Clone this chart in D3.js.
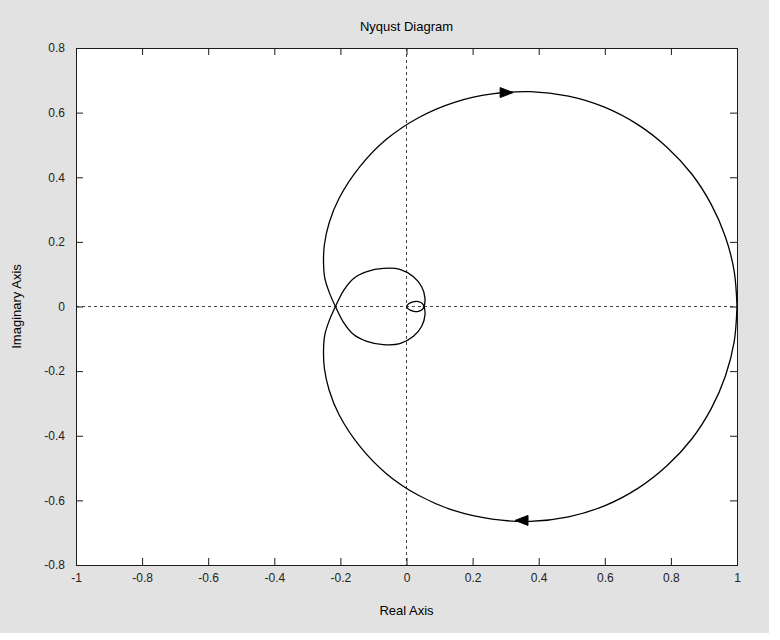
<!DOCTYPE html>
<html><head><meta charset="utf-8">
<script src="https://cdn.jsdelivr.net/npm/d3@7"></script>
<style>
body{margin:0;background:#fff}
text{font-family:"Liberation Sans",Arial,Helvetica,sans-serif}
</style>
</head><body>
<svg id="chart" width="780" height="640"></svg>
<script>
// ---------- data ----------
const chartTitle = "Nyqust Diagram";
const xLabel = "Real Axis";
const yLabel = "Imaginary Axis";
const xTicks = [-1, -0.8, -0.6, -0.4, -0.2, 0, 0.2, 0.4, 0.6, 0.8, 1];
const yTicks = [-0.8, -0.6, -0.4, -0.2, 0, 0.2, 0.4, 0.6, 0.8];

// branch for negative frequencies: from (1,0) over the top, through the inner loop, to the origin
const negRe = [1.0, 0.9915, 0.965, 0.922, 0.863, 0.788, 0.700, 0.599, 0.490, 0.375, 0.259, 0.145, 0.0375,
  -0.060, -0.141, -0.204, -0.234, -0.2485, -0.251, -0.247, -0.2335, -0.215,
  -0.19, -0.16, -0.12, -0.07, -0.02, 0.021, 0.046, 0.056, 0.053,
  0.047, 0.036, 0.023, 0.011, 0.003, 0.0];
const negIm = [0.0, 0.109, 0.215, 0.316, 0.41, 0.493, 0.563, 0.617, 0.651, 0.665, 0.658, 0.632, 0.585,
  0.518, 0.433, 0.335, 0.259, 0.191, 0.133, 0.087, 0.043, 0.0,
  -0.05, -0.087, -0.108, -0.118, -0.115, -0.092, -0.061, -0.025, 0.0,
  0.01, 0.015, 0.015, 0.011, 0.005, 0.0];

// branch for positive frequencies: from (1,0) under the bottom, through the inner loop, to the origin
const posRe = [1.0, 0.9915, 0.965, 0.922, 0.863, 0.788, 0.700, 0.599, 0.490, 0.375, 0.259, 0.145, 0.0375,
  -0.060, -0.141, -0.204, -0.234, -0.2485, -0.251, -0.247, -0.2335, -0.215,
  -0.19, -0.16, -0.12, -0.07, -0.02, 0.021, 0.046, 0.056, 0.053,
  0.047, 0.036, 0.023, 0.011, 0.003, 0.0];
const posIm = [0.0, -0.109, -0.215, -0.316, -0.41, -0.493, -0.563, -0.617, -0.651, -0.665, -0.658, -0.632, -0.585,
  -0.518, -0.433, -0.335, -0.259, -0.191, -0.133, -0.087, -0.043, 0.0,
  0.05, 0.087, 0.108, 0.118, 0.115, 0.092, 0.061, 0.025, 0.0,
  -0.01, -0.015, -0.015, -0.011, -0.005, 0.0];

// direction arrows on the curve
const arrowRe = [0.303, 0.348];
const arrowIm = [0.662, -0.662];
const arrowDir = [1, -1];   // +1 points toward +Re, -1 toward -Re

// ---------- drawing ----------
const svg = d3.select("#chart");
const W = 780, H = 640;
const plot = {left: 76, right: 737, top: 48, bottom: 565};

svg.append("rect").attr("x", 0).attr("y", 0).attr("width", W).attr("height", H).attr("fill", "#ffffff");
svg.append("rect").attr("x", 0).attr("y", 0).attr("width", 769).attr("height", 633).attr("fill", "#e2e2e2");

const x = d3.scaleLinear().domain([-1, 1]).range([plot.left, plot.right]);
const y = d3.scaleLinear().domain([-0.8, 0.8]).range([plot.bottom, plot.top]);

svg.append("rect")
  .attr("x", plot.left).attr("y", plot.top)
  .attr("width", plot.right - plot.left).attr("height", plot.bottom - plot.top)
  .attr("fill", "#ffffff");

const fmt = d => String(+d.toFixed(1));
const tickLen = 7;

// dashed zero lines
svg.append("line")
  .attr("x1", x(0)).attr("x2", x(0)).attr("y1", y(0.8)).attr("y2", y(-0.8))
  .attr("stroke", "#444").attr("stroke-width", 1).attr("stroke-dasharray", "3,3");
svg.append("line")
  .attr("x1", x(-1)).attr("x2", x(1)).attr("y1", y(0)).attr("y2", y(0))
  .attr("stroke", "#444").attr("stroke-width", 1).attr("stroke-dasharray", "3,3");

function styleAxis(g) {
  g.select(".domain").remove();
  g.selectAll(".tick line").attr("stroke", "#1a1a1a");
  g.selectAll(".tick text").attr("fill", "#222").style("font-size", "12px")
    .style("font-family", '"Liberation Sans", Arial, sans-serif');
}

// bottom axis
svg.append("g").attr("transform", `translate(0,${plot.bottom})`)
  .call(d3.axisBottom(x).tickValues(xTicks).tickFormat(fmt).tickSizeInner(-tickLen).tickSizeOuter(0).tickPadding(8))
  .call(styleAxis);
// top axis
svg.append("g").attr("transform", `translate(0,${plot.top})`)
  .call(d3.axisTop(x).tickValues(xTicks).tickFormat("").tickSizeInner(-tickLen).tickSizeOuter(0))
  .call(styleAxis);
// left axis
svg.append("g").attr("transform", `translate(${plot.left},0)`)
  .call(d3.axisLeft(y).tickValues(yTicks).tickFormat(fmt).tickSizeInner(-tickLen).tickSizeOuter(0).tickPadding(11))
  .call(styleAxis);
// right axis
svg.append("g").attr("transform", `translate(${plot.right},0)`)
  .call(d3.axisRight(y).tickValues(yTicks).tickFormat("").tickSizeInner(-tickLen).tickSizeOuter(0))
  .call(styleAxis);

// box
svg.append("rect")
  .attr("x", plot.left + 0.5).attr("y", plot.top + 0.5)
  .attr("width", plot.right - plot.left).attr("height", plot.bottom - plot.top)
  .attr("fill", "none").attr("stroke", "#1a1a1a").attr("stroke-width", 1);

// curves
const line = d3.line().x(d => x(d[0])).y(d => y(d[1])).curve(d3.curveCatmullRom.alpha(0.5));
const negPts = negRe.map((r, i) => [r, negIm[i]]);
const posPts = posRe.map((r, i) => [r, posIm[i]]);
[negPts, posPts].forEach(pts => {
  svg.append("path").datum(pts).attr("d", line)
    .attr("fill", "none").attr("stroke", "#000").attr("stroke-width", 1.3);
});

// arrows
arrowRe.forEach((r, i) => {
  const cx = x(r), cy = y(arrowIm[i]), d = arrowDir[i];
  const L = 6.5, Hh = 5;
  const pts = [[cx + d * L, cy], [cx - d * L, cy - Hh], [cx - d * L, cy + Hh]];
  svg.append("path").attr("d", "M" + pts.map(p => p.join(",")).join("L") + "Z")
    .attr("fill", "#000").attr("stroke", "#000").attr("stroke-width", 1);
});

// titles
svg.append("text").attr("x", (plot.left + plot.right) / 2).attr("y", 31)
  .attr("text-anchor", "middle").style("font-size", "13px").attr("fill", "#000").text(chartTitle);
svg.append("text").attr("x", (plot.left + plot.right) / 2).attr("y", 615)
  .attr("text-anchor", "middle").style("font-size", "13px").attr("fill", "#000").text(xLabel);
svg.append("text").attr("transform", `translate(21,${(plot.top + plot.bottom) / 2}) rotate(-90)`)
  .attr("text-anchor", "middle").style("font-size", "13px").attr("fill", "#000").text(yLabel);
</script>
</body></html>
